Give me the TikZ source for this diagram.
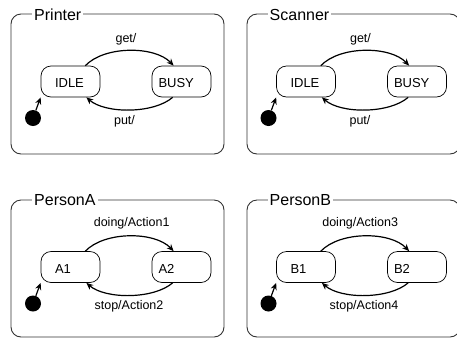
\documentclass[tikz,border=0pt]{standalone}
\usepackage{fontspec}
\setmainfont{Liberation Sans}
\usetikzlibrary{arrows.meta}

\tikzset{
  frame/.style={draw=black!80, line width=0.9pt, rounded corners=10pt},
  frametitle/.style={fill=white, inner xsep=2pt, inner ysep=0pt, anchor=base west,
    font=\fontsize{16}{18}\selectfont},
  leftstate/.style={draw, line width=0.7pt, rounded corners=10pt, minimum height=31pt,
    inner xsep=14pt, inner ysep=0pt, text width=31pt, align=left,
    text height=12pt, text depth=0pt, font=\fontsize{13}{15}\selectfont},
  rightstate/.style={leftstate, inner xsep=6.5pt, text width=46pt},
  trans/.style={line width=1.2pt, -{Stealth[length=7pt,width=6pt]}},
  tlabel/.style={anchor=base, inner sep=0pt, font=\fontsize{12.5}{15}\selectfont},
  initstate/.style={circle, fill=black, minimum size=16pt, inner sep=0pt},
}

\begin{document}
\begin{tikzpicture}[x=1pt, y=-1pt]
\useasboundingbox (0,0) rectangle (457,338);

% ---- Printer ----
\begin{scope}
  \draw[frame] (11,14) rectangle (224,154);
  \node[frametitle] (pr-title) at (32,20.5) {Printer};
  \node[leftstate]  (pr-idle) at (70.5,81.5) {IDLE};
  \node[rightstate] (pr-busy) at (181.5,81.5) {BUSY};
  \node[initstate]  (pr-init) at (33,118) {};
  \draw[trans] ([xshift=-15pt]pr-idle.north east) .. controls +(19,-20) and +(-19,-20) .. ([xshift=22pt]pr-busy.north west);
  \draw[trans] ([xshift=21pt]pr-busy.south west) .. controls +(-19,16.5) and +(19,16.5) .. ([xshift=-14pt]pr-idle.south east);
  \draw[trans] (pr-init) -- (pr-idle.south west);
  \node[tlabel] (pr-get) at (126,42) {get/};
  \node[tlabel] (pr-put) at (124.5,124.5) {put/};
\end{scope}

% ---- Scanner ----
\begin{scope}[shift={(235.5,0)}]
  \draw[frame] (11.5,14) rectangle (224.5,154);
  \node[frametitle] (sc-title) at (32,20.5) {Scanner};
  \node[leftstate]  (sc-idle) at (70.5,81.5) {IDLE};
  \node[rightstate] (sc-busy) at (181.5,81.5) {BUSY};
  \node[initstate]  (sc-init) at (33,118) {};
  \draw[trans] ([xshift=-15pt]sc-idle.north east) .. controls +(19,-20) and +(-19,-20) .. ([xshift=22pt]sc-busy.north west);
  \draw[trans] ([xshift=21pt]sc-busy.south west) .. controls +(-19,16.5) and +(19,16.5) .. ([xshift=-14pt]sc-idle.south east);
  \draw[trans] (sc-init) -- (sc-idle.south west);
  \node[tlabel] (sc-get) at (125,42) {get/};
  \node[tlabel] (sc-put) at (124.5,124.5) {put/};
\end{scope}

% ---- PersonA ----
\begin{scope}[shift={(0,185.5)}]
  \draw[frame] (11,14.5) rectangle (224,151.5);
  \node[frametitle] (pa-title) at (32,20) {PersonA};
  \node[leftstate]  (pa-a1) at (70.5,81.5) {A1};
  \node[rightstate] (pa-a2) at (181.5,81.5) {A2};
  \node[initstate]  (pa-init) at (33,118) {};
  \draw[trans] ([xshift=-15pt]pa-a1.north east) .. controls +(19,-20) and +(-19,-20) .. ([xshift=22pt]pa-a2.north west);
  \draw[trans] ([xshift=21pt]pa-a2.south west) .. controls +(-19,16.5) and +(19,16.5) .. ([xshift=-14pt]pa-a1.south east);
  \draw[trans] (pa-init) -- (pa-a1.south west);
  \node[tlabel] (pa-doing) at (131.7,41) {doing/Action1};
  \node[tlabel] (pa-stop) at (129,123.5) {stop/Action2};
\end{scope}

% ---- PersonB ----
\begin{scope}[shift={(235.5,185.5)}]
  \draw[frame] (11.5,14.5) rectangle (224.5,151.5);
  \node[frametitle] (pb-title) at (32,20) {PersonB};
  \node[leftstate]  (pb-b1) at (70.5,81.5) {B1};
  \node[rightstate] (pb-b2) at (181.5,81.5) {B2};
  \node[initstate]  (pb-init) at (33,118) {};
  \draw[trans] ([xshift=-15pt]pb-b1.north east) .. controls +(19,-20) and +(-19,-20) .. ([xshift=22pt]pb-b2.north west);
  \draw[trans] ([xshift=21pt]pb-b2.south west) .. controls +(-19,16.5) and +(19,16.5) .. ([xshift=-14pt]pb-b1.south east);
  \draw[trans] (pb-init) -- (pb-b1.south west);
  \node[tlabel] (pb-doing) at (124.7,41) {doing/Action3};
  \node[tlabel] (pb-stop) at (128.5,123.5) {stop/Action4};
\end{scope}
\end{tikzpicture}
\end{document}
